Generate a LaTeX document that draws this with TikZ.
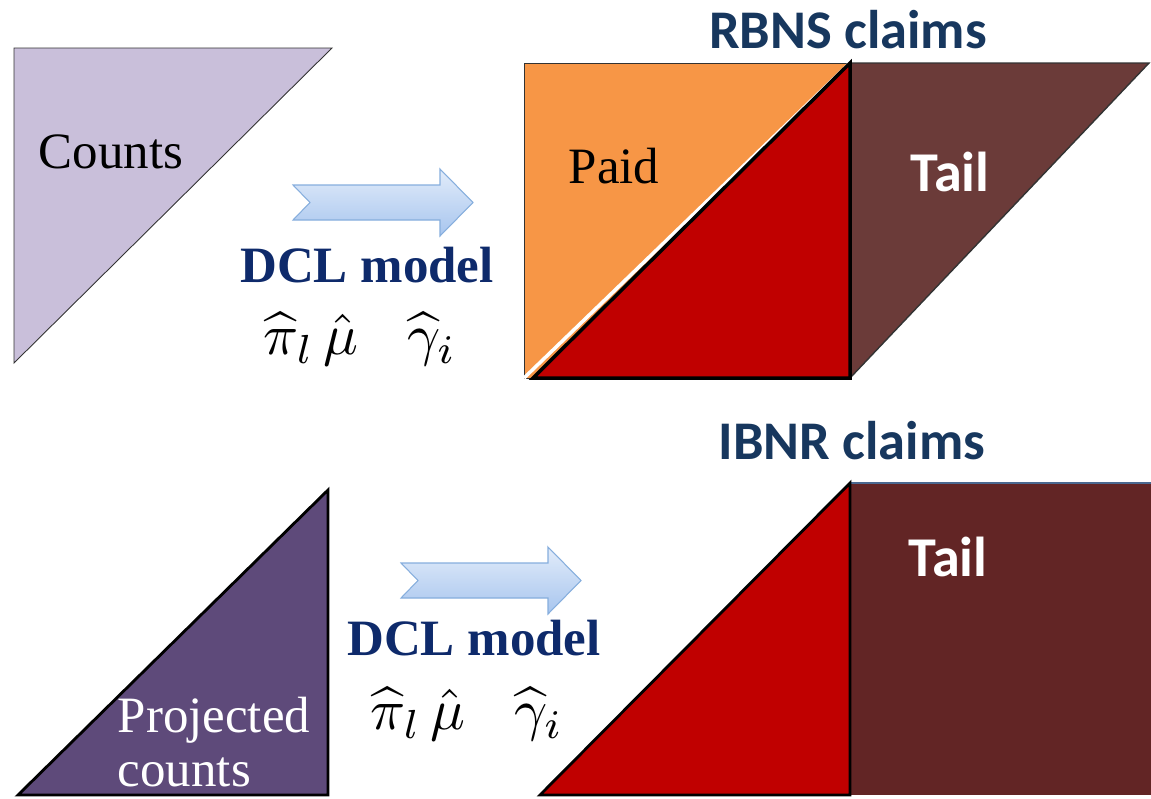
\documentclass[tikz,border=0pt]{standalone}
\usepackage{graphicx}
\usepackage{fontspec}
\setmainfont{Liberation Serif}
\newfontfamily\calibri{Carlito}
\usetikzlibrary{positioning}
\definecolor{lilaclaro}{HTML}{C9BFDA}
\definecolor{lilaoscuro}{HTML}{5E4A7A}
\definecolor{naranja}{HTML}{F79646}
\definecolor{rojo}{HTML}{C00000}
\definecolor{marron}{HTML}{6B3B39}
\definecolor{marronosc}{HTML}{622525}
\definecolor{azulosc}{HTML}{0E2A6B}
\definecolor{azultit}{HTML}{17375E}
\definecolor{flechaarr}{HTML}{E2ECFA}
\definecolor{flechaab}{HTML}{A7C5EE}
\definecolor{flechaborde}{HTML}{86AEDD}
\newcommand{\parametros}{\scalebox{3.3}{$\widehat{\pi}_l\,\hat{\mu}\;\;\;\widehat{\gamma}_i$}}
\begin{document}
\begin{tikzpicture}[x=0.02cm,y=-0.02cm,
				texto/.style={font=\fontsize{29}{32}\selectfont},
				modelo/.style={font=\fontsize{29}{32}\selectfont\bfseries,text=azulosc},
				titulo/.style={font=\calibri\fontsize{31}{34}\selectfont\bfseries,text=azultit},
				cola/.style={font=\calibri\fontsize{32}{35}\selectfont\bfseries,text=white},
				flecha/.pic={
				  \path[top color=flechaarr,bottom color=flechaab,draw=flechaborde,line width=0.6pt]
				    (0,-17.5) -- (147,-17.5) -- (147,-33.5) -- (180,0) -- (147,33.5)
				    -- (147,17.5) -- (0,17.5) -- (17,0) -- cycle;
				}]
	      \useasboundingbox (0,0) rectangle (1151,798);
	      % Parte de arriba
	      \fill[lilaclaro,draw=black!80,line width=0.5pt] (14,48) -- (332,48) -- (14,363) -- cycle;
	      \node[texto] (counts) at (111,152) {Counts};
	      \pic at (293,202.5) {flecha};
	      \node[modelo] (dcl1) at (367,265) {DCL model};
	      \node (par1) at (360,339) {\parametros};
	      \fill[marron,draw=black!80,line width=0.8pt] (850,63) -- (1149,63) -- (850,378) -- cycle;
	      \fill[naranja,draw=black!80,line width=0.5pt] (524,63) rectangle (850,378);
	      \draw[white,line width=2pt] (524,378) -- (850,63);
	      \fill[rojo,draw=black,line width=2pt,line join=miter] (533,378) -- (850,63) -- (850,378) -- cycle;
	      \node[texto] (paid) at (614,166) {Paid};
	      \node[cola] (tail1) at (950,172) {Tail};
	      \node[titulo] (rbns) at (848,30) {RBNS claims};
	      % Parte de abajo
	      \fill[lilaoscuro,draw=black,line width=1.6pt] (18,795) -- (328,490) -- (328,795) -- cycle;
	      \node[texto,text=white,align=left,font=\fontsize{29}{31}\selectfont] (proj) at (214,742) {Projected\\counts};
	      \pic at (401,580.5) {flecha};
	      \node[modelo] (dcl2) at (474,638) {DCL model};
	      \node (par2) at (467,714) {\parametros};
	      \fill[marronosc] (850,483) rectangle (1151,795);
	      \draw[color={rgb,255:red,74;green,104;blue,144},line width=1.2pt] (850,483) -- (1151,483);
	      \fill[rojo,draw=black,line width=1.6pt,line join=miter] (540,795) -- (850,483) -- (850,795) -- cycle;
	      \node[cola] (tail2) at (948,557) {Tail};
	      \node[titulo] (ibnr) at (852,441) {IBNR claims};
\end{tikzpicture}
\end{document}
